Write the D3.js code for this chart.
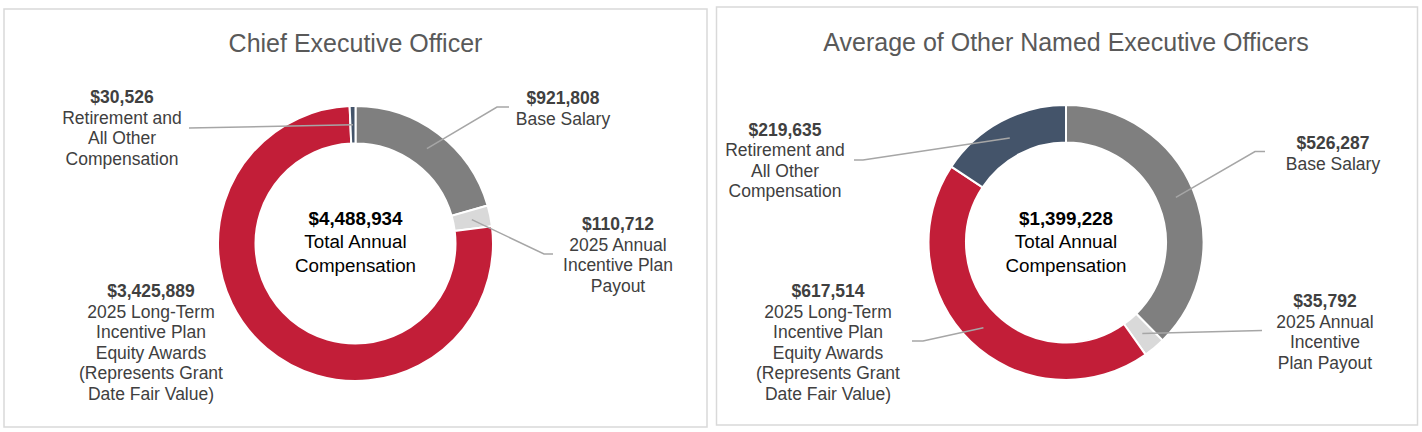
<!DOCTYPE html>
<html>
<head>
<meta charset="utf-8">
<script src="https://cdn.jsdelivr.net/npm/d3@7"></script>
<style>
  html, body { margin: 0; padding: 0; background: #ffffff; }
  svg { display: block; }
</style>
</head>
<body>
<svg id="chart" width="1422" height="432"></svg>
<script>
// ---------------- DATA ----------------
const categories = [
  "Base Salary",
  "2025 Annual Incentive Plan Payout",
  "2025 Long-Term Incentive Plan Equity Awards",
  "Retirement and All Other Compensation"
];
const panelTitles = ["Chief Executive Officer", "Average of Other Named Executive Officers"];
const ceoValues = [921808, 110712, 3425889, 30526];
const neoValues = [526287, 35792, 617514, 219635];
const totals = [4488934, 1399228];
const centerCaption = ["Total Annual", "Compensation"];
const ceoLabelText = [
  ["Base Salary"],
  ["2025 Annual", "Incentive Plan", "Payout"],
  ["2025 Long-Term", "Incentive Plan", "Equity Awards", "(Represents Grant", "Date Fair Value)"],
  ["Retirement and", "All Other", "Compensation"]
];
const neoLabelText = [
  ["Base Salary"],
  ["2025 Annual", "Incentive", "Plan Payout"],
  ["2025 Long-Term", "Incentive Plan", "Equity Awards", "(Represents Grant", "Date Fair Value)"],
  ["Retirement and", "All Other", "Compensation"]
];

// ---------------- STYLE / LAYOUT ----------------
const colors = ["#7f7f7f", "#d9d9d9", "#c21e38", "#44546a"];
const FONT = "'Liberation Sans', Arial, sans-serif";
const panels = [
  {
    values: ceoValues, total: totals[0], labels: ceoLabelText, title: panelTitles[0],
    box: [4, 9, 703, 418], cx: 355.5, cy: 243.5, titleY: 43,
    labelPos: [[563, 98], [618, 224], [151, 291], [122, 97]],
    leaders: [[[497, 107], [509, 107]], [[544, 254], [553, 254]], null, [[189, 128]]]
  },
  {
    values: neoValues, total: totals[1], labels: neoLabelText, title: panelTitles[1],
    box: [716.5, 7, 701, 418], cx: 1066, cy: 242.5, titleY: 42,
    labelPos: [[1333, 143], [1325, 301], [828, 291], [785, 129.5]],
    leaders: [[[1255, 151.5], [1265, 151.5]], [[1262, 330.5]], [[923, 341], [912, 341]], [[863, 160], [854, 160]]]
  }
];
const outerR = 137.5, innerR = 100, lineH = 20.5;

const svg = d3.select("#chart");
const fmt = d3.format("$,");
const pie = d3.pie().sort(null).value(d => d);
const arc = d3.arc().innerRadius(innerR).outerRadius(outerR);
const midArc = d3.arc().innerRadius((innerR + outerR) / 2).outerRadius((innerR + outerR) / 2);

panels.forEach(p => {
  const g = svg.append("g");
  // panel border
  g.append("rect")
    .attr("x", p.box[0]).attr("y", p.box[1])
    .attr("width", p.box[2]).attr("height", p.box[3])
    .attr("fill", "#ffffff").attr("stroke", "#d9d9d9").attr("stroke-width", 1.5);

  // title
  g.append("text")
    .attr("x", p.cx).attr("y", p.titleY)
    .attr("text-anchor", "middle").attr("dominant-baseline", "central")
    .attr("font-family", FONT).attr("font-size", 25).attr("fill", "#595959")
    .text(p.title);

  const arcs = pie(p.values);
  const ring = g.append("g").attr("transform", `translate(${p.cx},${p.cy})`);
  ring.selectAll("path").data(arcs).join("path")
    .attr("d", arc)
    .attr("fill", (d, i) => colors[i])
    .attr("stroke", "#ffffff").attr("stroke-width", 2);

  // leader lines
  arcs.forEach((a, i) => {
    const pts = p.leaders[i];
    if (!pts) return;
    const c = midArc.centroid(a);
    const start = [p.cx + c[0], p.cy + c[1]];
    g.append("path")
      .attr("d", d3.line()([start, ...pts]))
      .attr("fill", "none").attr("stroke", "#a6a6a6").attr("stroke-width", 1.5);
  });

  // labels
  arcs.forEach((a, i) => {
    const [lx, ly] = p.labelPos[i];
    const lines = [fmt(p.values[i]), ...p.labels[i]];
    const t = g.append("text")
      .attr("text-anchor", "middle")
      .attr("font-family", FONT).attr("font-size", 17.5).attr("fill", "#404040");
    lines.forEach((s, k) => {
      t.append("tspan")
        .attr("x", lx).attr("y", ly + k * lineH)
        .attr("dominant-baseline", "central")
        .attr("font-weight", k === 0 ? "bold" : "normal")
        .text(s);
    });
  });

  // center text
  const ct = g.append("text")
    .attr("text-anchor", "middle")
    .attr("font-family", FONT).attr("font-size", 18.8).attr("fill", "#000000");
  [fmt(p.total), ...centerCaption].forEach((s, k) => {
    ct.append("tspan")
      .attr("x", p.cx).attr("y", 218 + k * 23.5)
      .attr("dominant-baseline", "central")
      .attr("font-weight", k === 0 ? "bold" : "normal")
      .text(s);
  });
});
</script>
</body>
</html>
